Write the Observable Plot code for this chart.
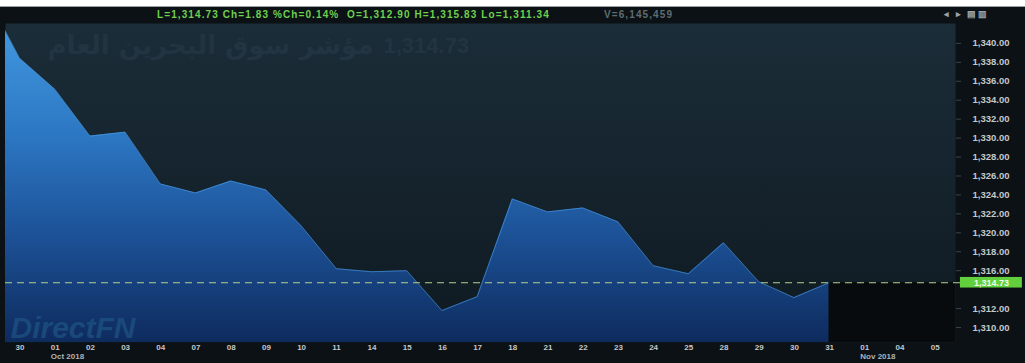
<!DOCTYPE html>
<html>
<head>
<meta charset="utf-8">
<script src="https://cdn.jsdelivr.net/npm/d3@7"></script>
<script src="https://cdn.jsdelivr.net/npm/@observablehq/plot@0.6"></script>
<style>
  body { margin: 0; background: #ffffff; }
  #wrap { position: relative; width: 1025px; height: 363px; overflow: hidden; background: #ffffff; }
  #topline { position: absolute; left: 0; top: 6px; width: 1025px; height: 1px; background: #9aa0a4; }
  #chart { position: absolute; left: 0; top: 7px; }
  .hdr { position: absolute; top: 9px; font: bold 10px Arial, "Liberation Sans", sans-serif; white-space: pre; letter-spacing: 1.1px; }
</style>
</head>
<body>
<div id="wrap">
  <div id="topline"></div>
  <div id="chart"></div>
  <div class="hdr" id="hdrMain" style="left:157px;color:#6fd04e;"></div>
  <div class="hdr" id="hdrVol" style="left:604px;color:#5f6c72;"></div>
  <div class="hdr" id="hdrIcons" style="left:944px;color:#9aa3a8;letter-spacing:2px;font-size:9px;"></div>
</div>
<svg width="0" height="0" style="position:absolute">
  <defs>
    <linearGradient id="bgGrad" x1="0" y1="0" x2="0" y2="1">
      <stop offset="0" stop-color="#1b2d39"/>
      <stop offset="0.5" stop-color="#15232d"/>
      <stop offset="1" stop-color="#0f1a21"/>
    </linearGradient>
    <linearGradient id="areaGrad" gradientUnits="userSpaceOnUse" x1="0" y1="16" x2="0" y2="335">
      <stop offset="0" stop-color="#4298e0"/>
      <stop offset="0.35" stop-color="#2c77c3"/>
      <stop offset="0.65" stop-color="#1d5399"/>
      <stop offset="1" stop-color="#0e2b5e"/>
    </linearGradient>
  </defs>
</svg>
<script>
// ---- data ----
const dayLabels = ["30","01","02","03","04","07","08","09","10","11","14","15","16","17","18","21","22","23","24","25","28","29","30","31","01","04","05"];
const monthTickIndex = [1, 24];
const monthLabels = ["Oct 2018", "Nov 2018"];
// closing values, first one is the session before the first label (index -1)
const closes = [1345.5, 1338.42, 1335.16, 1330.21, 1330.63, 1325.16, 1324.21, 1325.47, 1324.53, 1320.74, 1316.21, 1315.89, 1316.00, 1311.79, 1313.26, 1323.58, 1322.21, 1322.63, 1321.16, 1316.53, 1315.68, 1318.95, 1314.84, 1313.16, 1314.73];
const yTicks = [1310, 1312, 1316, 1318, 1320, 1322, 1324, 1326, 1328, 1330, 1332, 1334, 1336, 1338, 1340];
const lastValue = 1314.73;
const headerMain = "L=1,314.73 Ch=1.83 %Ch=0.14%  O=1,312.90 H=1,315.83 Lo=1,311.34";
const headerVol = "V=6,145,459";
const watermarkName = "مؤشر سوق البحرين العام";
const watermarkValue = "1,314.73";
const brand = "DirectFN";

// ---- build ----
const rows = closes.map((v, i) => ({i: i - 1, v}));
const lastIndex = rows[rows.length - 1].i;
const xDom = [-0.4, 26.59];
const yDom = [1308.42, 1342.1];
const futureRows = [{i: lastIndex, v: lastValue}, {i: xDom[1], v: lastValue}];
const fmt = d3.format(",.2f");

document.getElementById("hdrMain").textContent = headerMain;
document.getElementById("hdrVol").textContent = headerVol;
document.getElementById("hdrIcons").textContent = "◂ ▸ ▤▥";

const chart = Plot.plot({
  width: 1025,
  height: 356,
  marginTop: 16,
  marginBottom: 21,
  marginLeft: 5,
  marginRight: 70,
  x: {domain: xDom, axis: null, label: null},
  y: {domain: yDom, axis: null, label: null},
  style: {background: "#0b1115", fontFamily: "Arial, 'Liberation Sans', sans-serif", overflow: "visible"},
  marks: [
    Plot.frame({fill: "url(#bgGrad)", stroke: null}),
    Plot.text([watermarkName], {frameAnchor: "top-left", dx: 368, dy: 22, textAnchor: "end", lineAnchor: "middle",
      fontSize: 26, fontWeight: "bold", fontFamily: "'DejaVu Sans', sans-serif", fill: "#223441"}),
    Plot.text([watermarkValue], {frameAnchor: "top-left", dx: 378, dy: 22, textAnchor: "start", lineAnchor: "middle",
      fontSize: 22, fontWeight: "bold", fill: "#223441"}),
    Plot.areaY(rows, {x: "i", y1: yDom[0], y2: "v", fill: "url(#areaGrad)", clip: true}),
    Plot.lineY(rows, {x: "i", y: "v", stroke: "#4c9fe6", strokeWidth: 1, clip: true, strokeOpacity: 0.6}),
    Plot.areaY(futureRows, {x: "i", y1: yDom[0], y2: "v", fill: "#080b0d"}),
    Plot.text([brand], {frameAnchor: "bottom-left", dx: 5, dy: -5, textAnchor: "start", lineAnchor: "bottom",
      fontSize: 30, fontWeight: "bold", fontStyle: "italic", fill: "#1f5586", fillOpacity: 0.7}),
    Plot.ruleY([lastValue], {x1: xDom[0], x2: 26.73, stroke: "#b3cf8e", strokeWidth: 1, strokeDasharray: "7,5"}),
    Plot.axisY(yTicks, {anchor: "right", label: null, tickSize: 5, tickPadding: 12, stroke: "#3a454c",
      tickFormat: fmt, textAnchor: "start", fill: "#c3c8cb", fontSize: 9.5, fontWeight: "bold"}),
    Plot.rect([lastValue], {x1: 26.73, x2: 28.49, y1: d => d - 0.56, y2: d => d + 0.56, fill: "#62cf3c"}),
    Plot.text([lastValue], {x: 27.61, y: d => d, text: fmt, fill: "#effce8", fontSize: 9, fontWeight: "bold"}),
    Plot.axisX(d3.range(dayLabels.length), {anchor: "bottom", label: null, tickSize: 0, tickPadding: 2,
      tickFormat: i => dayLabels[i], textAnchor: "start", dx: -4, fill: "#c3c8cb", fontSize: 8, fontWeight: "bold"}),
    Plot.text(monthTickIndex, {x: d => d, text: (d, k) => monthLabels[k], frameAnchor: "bottom", dy: 14, dx: -4,
      textAnchor: "start", lineAnchor: "middle", fill: "#aeb4b8", fontSize: 8, fontWeight: "bold"})
  ]
});
document.getElementById("chart").appendChild(chart);
</script>
</body>
</html>
